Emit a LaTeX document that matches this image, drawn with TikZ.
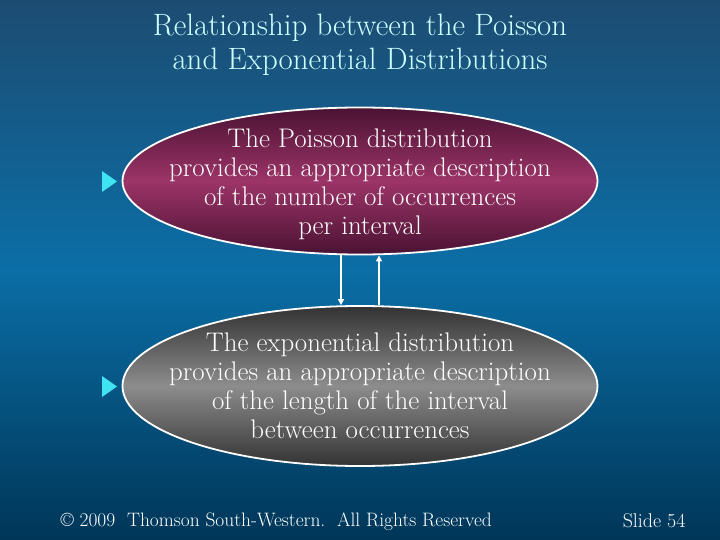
\documentclass[tikz,border=0pt]{standalone}
\usepackage{fontspec}
\usetikzlibrary{shapes.geometric,arrows.meta}
\definecolor{bgtop}{HTML}{1D4C72}
\definecolor{bgmid}{HTML}{0B6EA6}
\definecolor{bgbot}{HTML}{003658}
\definecolor{titlec}{HTML}{CCFFFF}
\definecolor{magout}{HTML}{4A1232}
\definecolor{magin}{HTML}{9C3468}
\definecolor{grayout}{HTML}{333333}
\definecolor{grayin}{HTML}{8C8C8C}
\definecolor{bullet}{HTML}{3FE3F2}
\tikzset{
  oval/.style={ellipse, draw=white, line width=1.8bp, minimum width=475bp, inner sep=0pt},
  ovaltext/.style={align=center, text=white, font=\fontsize{27}{29}\selectfont, inner sep=0pt},
  arr/.style={draw=white, line width=1.8bp, -{Triangle[length=6bp,width=6bp]}},
  bul/.style={fill=bullet, draw=none},
}
\begin{document}
\begin{tikzpicture}[x=1bp,y=-1bp]
\shade[top color=bgtop, bottom color=bgbot, middle color=bgmid] (0,0) rectangle (720,540);
\useasboundingbox (0,0) rectangle (720,540);
\node[text=titlec, align=center, font=\fontsize{31}{34}\selectfont] (title) at (360,45)
  {Relationship between the Poisson\\and Exponential Distributions};
\node[oval, minimum height=147bp, top color=magout, bottom color=magout, middle color=magin] (pois) at (360,181) {};
\node[ovaltext] (poistext) at (360,184)
  {The Poisson distribution\\provides an appropriate description\\of the number of occurrences\\per interval};
\node[oval, minimum height=160bp, top color=grayout, bottom color=grayout, middle color=grayin] (expo) at (360,386) {};
\node[ovaltext] (expotext) at (360,386)
  {The exponential distribution\\provides an appropriate description\\of the length of the interval\\between occurrences};
\draw[arr] ([xshift=-19bp]pois.south) -- ([xshift=-19bp]expo.north);
\draw[arr] ([xshift=19bp]expo.north) -- ([xshift=19bp]pois.south);
\fill[bul] (102,171) -- (117,181.5) -- (102,192) -- cycle;
\fill[bul] (102,376) -- (117,386.5) -- (102,397) -- cycle;
\node[text=white, anchor=base west, font=\fontsize{19.5}{22}\selectfont] (copy) at (57,526)
  {© 2009\ \ Thomson South-Western.\ \ All Rights Reserved};
\node[text=white, anchor=base east, font=\fontsize{20}{22}\selectfont] (slide) at (689,527) {Slide 54};
\end{tikzpicture}
\end{document}
